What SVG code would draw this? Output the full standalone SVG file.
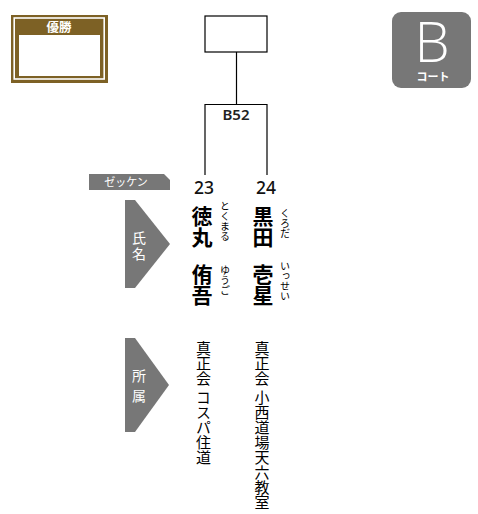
<svg xmlns="http://www.w3.org/2000/svg" width="478" height="514" viewBox="0 0 478 514">
<style>
.line{fill:none;stroke:#000;stroke-width:1.2}
.gray{fill:#777777}
.lbl{font-family:"Noto Sans CJK JP","Noto Sans",sans-serif;fill:#fff}
.vlbl{writing-mode:vertical-rl;font-family:"Noto Sans CJK JP",sans-serif;fill:#fff;font-size:14px}
.vt{writing-mode:vertical-rl;font-family:"Noto Sans CJK JP",sans-serif;fill:#000}
.name{font-size:21px;font-weight:bold}
.kana{font-size:10px}
.aff{font-size:15px}
.num{font-family:"Noto Sans",sans-serif;font-size:17.5px;font-weight:500;fill:#111;text-anchor:middle}
</style>
<rect width="478" height="514" fill="#fff"/>
<g id="winner">
<rect x="11" y="15" width="97" height="68" fill="#7d6125"/>
<rect x="14.2" y="18" width="90" height="61" fill="none" stroke="#fff" stroke-width="1.6"/>
<rect x="19" y="35" width="81" height="41" fill="#fff"/>
<text x="59" y="32" class="lbl" font-size="12.5" font-weight="bold" fill="#ece6d8" text-anchor="middle">優勝</text>
</g>
<g id="court">
<rect x="392" y="12" width="79" height="76" rx="9" class="gray"/>
<text x="432" y="62" font-family="Open Sans,sans-serif" font-weight="300" font-size="56" fill="#fff" text-anchor="middle">B</text>
<text x="433" y="81" class="lbl" font-size="11" font-weight="bold" text-anchor="middle">コート</text>
</g>
<g id="connectors">
<rect x="205" y="16" width="62" height="36" class="line"/>
<line x1="236.5" y1="52" x2="236.5" y2="104.5" class="line"/>
<polyline points="205,175 205,104.5 267,104.5 267,175" class="line"/>
</g>
<g id="match-B52">
<text x="236" y="120" font-family="Noto Sans,sans-serif" font-weight="600" font-size="15" fill="#222" text-anchor="middle">B52</text>
</g>
<g id="zekken-label">
<polygon points="89,174 164,174 170,180 170,190 89,190" class="gray"/>
<text x="126" y="186" class="lbl" font-size="11" text-anchor="middle">ゼッケン</text>
</g>
<g id="name-label">
<polygon points="125,200 135,200 170,244 135,288 125,288" class="gray"/>
<text x="139" y="231" class="vlbl" letter-spacing="2">氏名</text>
</g>
<g id="affiliation-label">
<polygon points="125,338 135,338 169,385 135,432 125,432" class="gray"/>
<text x="139" y="369" class="vlbl" letter-spacing="6">所属</text>
</g>
<g id="player-23">
<text x="204" y="194" class="num">23</text>
<text x="202" y="206" class="vt name">徳丸</text>
<text x="202" y="264" class="vt name">侑吾</text>
<text x="225" y="201" class="vt kana">とくまる</text>
<text x="225" y="265" class="vt kana">ゆうご</text>
<text x="203.5" y="341" class="vt aff">真正会 コスパ住道</text>
</g>
<g id="player-24">
<text x="266" y="194" class="num">24</text>
<text x="263" y="206" class="vt name">黒田</text>
<text x="263" y="264" class="vt name">壱星</text>
<text x="285" y="208" class="vt kana">くろだ</text>
<text x="285" y="261" class="vt kana">いっせい</text>
<text x="262" y="341" class="vt aff">真正会 小西道場天六教室</text>
</g>
</svg>
